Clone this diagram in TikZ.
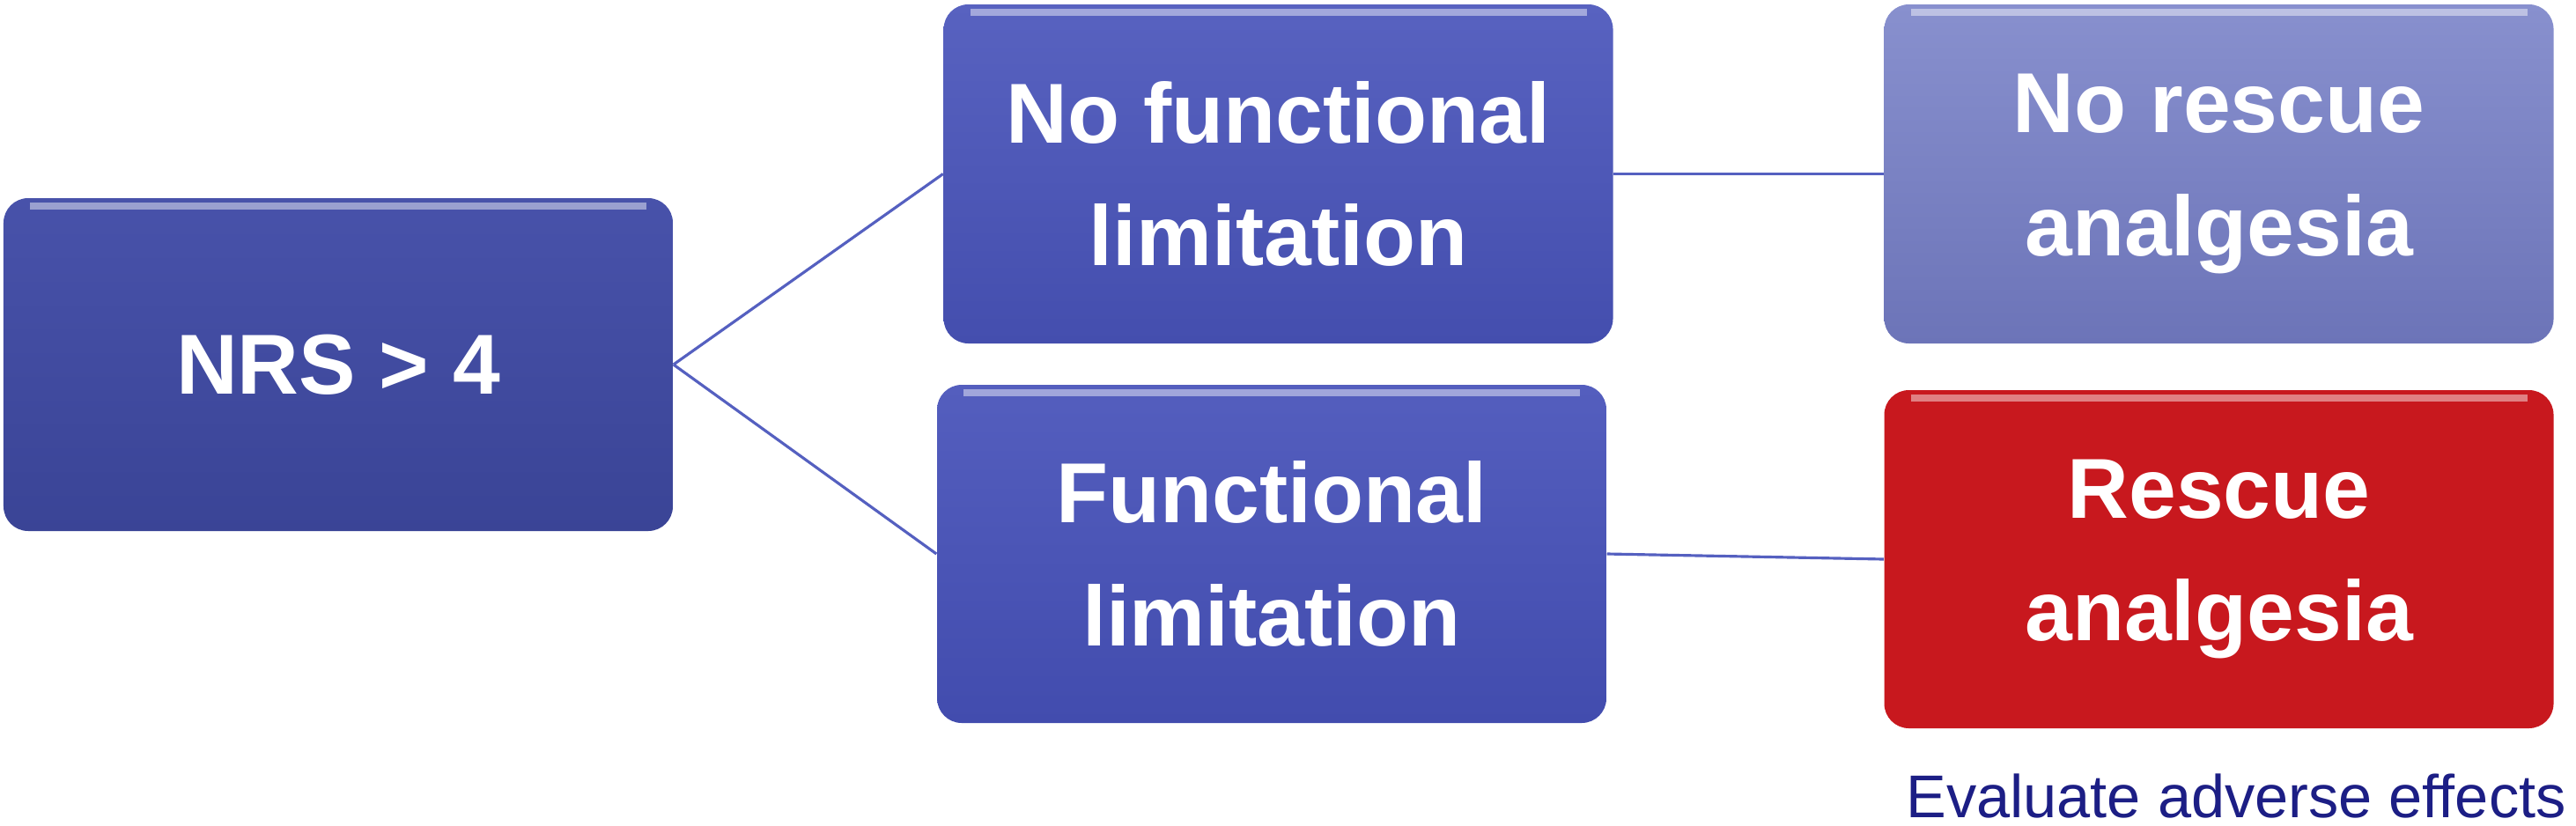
\documentclass[tikz,border=0pt]{standalone}
\usepackage{fontspec}
\setmainfont{Liberation Sans}
\definecolor{linkc}{HTML}{5560C0}
\definecolor{navytxt}{HTML}{1C1E85}
\definecolor{rescuered}{HTML}{C8181E}
\definecolor{nrstop}{HTML}{4852AA}
\definecolor{nrsbot}{HTML}{3A4496}
\definecolor{nofltop}{HTML}{5862C0}
\definecolor{noflbot}{HTML}{444EAE}
\definecolor{noratop}{HTML}{8890CE}
\definecolor{norabot}{HTML}{6C74B8}
\definecolor{fltop}{HTML}{545EBE}
\definecolor{flbot}{HTML}{424CAE}
\tikzset{
  box/.style={rounded corners=0.28cm, minimum width=7.6cm, minimum height=3.84cm,
    inner sep=0pt, align=center, text=white,
    font=\fontsize{27.5pt}{39.8pt}\selectfont\bfseries,
    path picture={
      \draw[white, opacity=0.45, line width=2.2pt]
        ([xshift=0.3cm,yshift=-0.09cm]path picture bounding box.north west) --
        ([xshift=-0.3cm,yshift=-0.09cm]path picture bounding box.north east);
    }},
  link/.style={draw=linkc, line width=0.9pt},
}
\begin{document}
\begin{tikzpicture}
\useasboundingbox (0,0) rectangle (29.25,9.37);
\node[box, top color=nrstop, bottom color=nrsbot, minimum height=3.78cm] (nrs) at (3.84,5.23) {NRS > 4};
\node[box, top color=nofltop, bottom color=noflbot, minimum height=3.85cm] (nofl) at (14.515,7.395) {No functional\\limitation};
\node[box, top color=noratop, bottom color=norabot, minimum height=3.85cm] (nora) at (25.195,7.395) {No rescue\\analgesia};
\node[box, top color=fltop, bottom color=flbot] (fl) at (14.44,3.08) {Functional\\limitation};
\node[box, fill=rescuered] (ra) at (25.195,3.02) {Rescue\\analgesia};
\node[anchor=base, inner sep=0pt, text=navytxt, font=\fontsize{19.5pt}{23pt}\selectfont] (eval) at (25.39,0.09) {Evaluate adverse effects};
\draw[link] (nrs.east) -- (nofl.west);
\draw[link] (nrs.east) -- (fl.west);
\draw[link] (nofl.east) -- (nora.west);
\draw[link] (fl.east) -- (ra.west);
\end{tikzpicture}
\end{document}
